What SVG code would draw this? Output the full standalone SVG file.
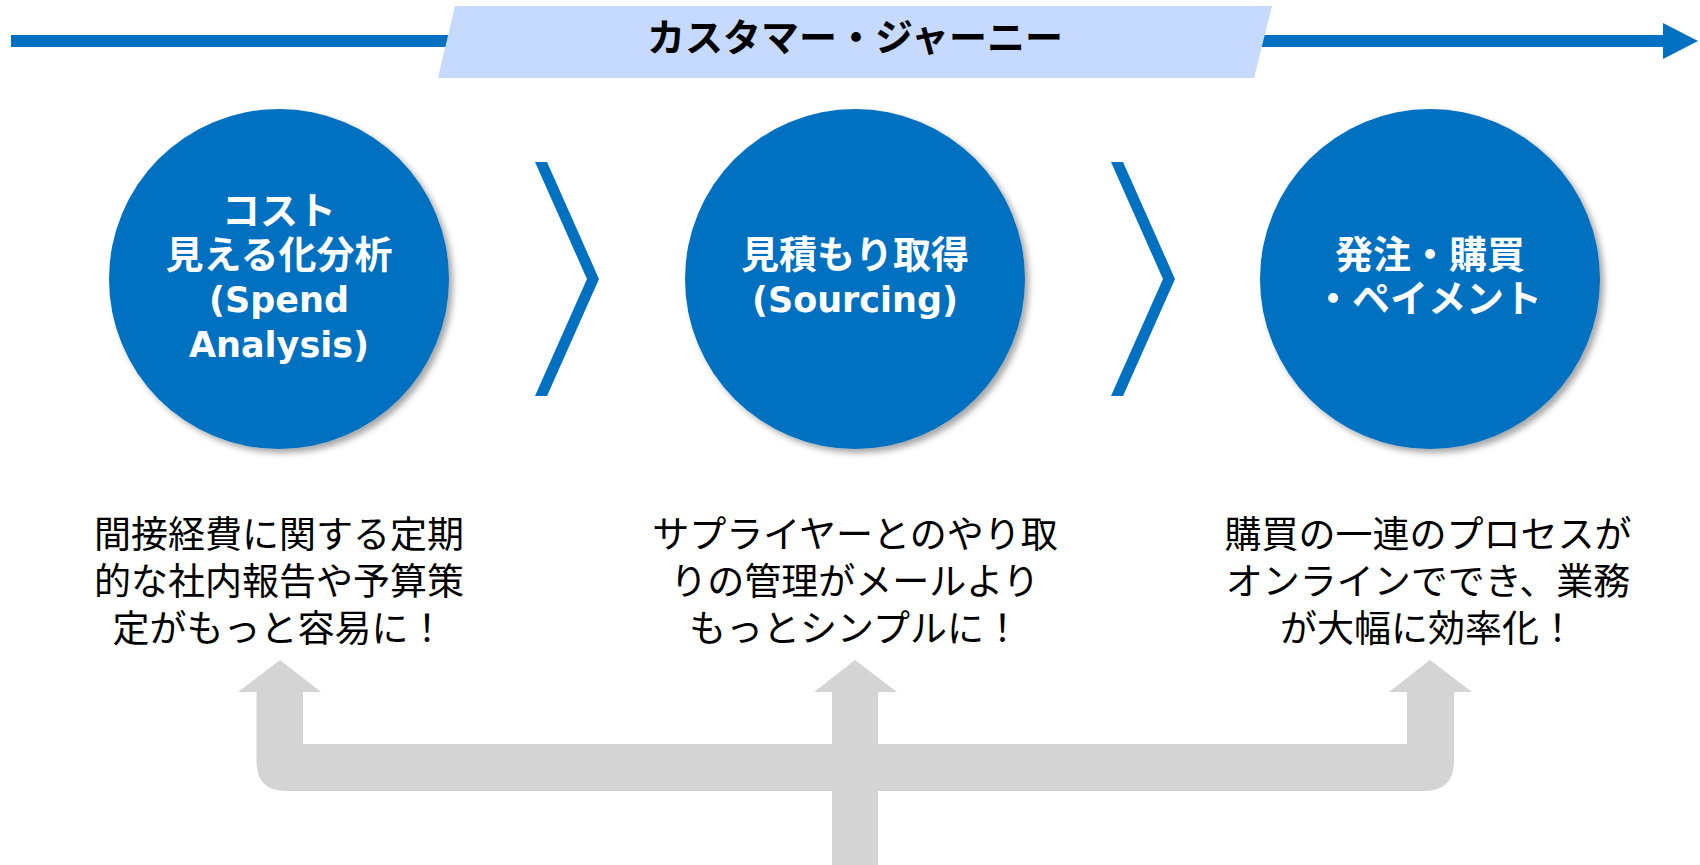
<svg xmlns="http://www.w3.org/2000/svg" width="1700" height="865" viewBox="0 0 1700 865">
  <defs>
    <filter id="shadow" x="-10%" y="-10%" width="125%" height="125%">
      <feDropShadow dx="4" dy="4" stdDeviation="3" flood-color="#000" flood-opacity="0.35"/>
    </filter>
  </defs>
  <style>
    .blue { fill: #0070C0; }
    .circle { fill: #0070C0; filter: url(#shadow); }
    .ctext { fill: #FFFFFF; font-family: "Noto Sans CJK JP", sans-serif; font-weight: bold; font-size: 38px; text-anchor: middle; }
    .clatin { fill: #FFFFFF; font-family: "DejaVu Sans", "Noto Sans CJK JP", sans-serif; font-weight: bold; font-size: 35px; text-anchor: middle; }
    .desc { fill: #000000; font-family: "Noto Sans CJK JP", sans-serif; font-size: 37px; text-anchor: middle; }
    .banner-text { fill: #000000; font-family: "Noto Sans CJK JP", sans-serif; font-weight: bold; font-size: 38px; text-anchor: middle; }
    .gray { fill: #D4D4D4; }
  </style>
  <rect width="1700" height="865" fill="#FFFFFF"/>

  <g id="connectors">
    <!-- timeline arrow -->
    <rect class="blue" x="11" y="35" width="1653" height="12"/>
    <polygon class="blue" points="1663,23 1698,41 1663,59"/>
    <!-- chevrons -->
    <polygon class="blue" points="535,162 547,162 599,279 547,396 535,396 587,279"/>
    <polygon class="blue" points="1111,162 1123,162 1175,279 1123,396 1111,396 1163,279"/>
    <!-- gray feedback arrows -->
    <path class="gray" d="M832,865 L832,791 L286,791 Q256.5,791 256.5,761 L256.5,692 L238,692 L280,660 L321,692 L303,692 L303,744 L832,744 L832,692 L814,692 L855,660 L897,692 L878,692 L878,744 L1407,744 L1407,692 L1389,692 L1430,660 L1472,692 L1454,692 L1454,761 Q1454,791 1424,791 L878,791 L878,865 Z"/>
  </g>

  <g id="banner">
    <polygon points="455,6 1272,6 1254,78 438,78" fill="#C6D9FE"/>
    <text class="banner-text" x="855" y="51">カスタマー・ジャーニー</text>
  </g>

  <g id="node-spend">
    <circle class="circle" cx="279" cy="279" r="170"/>
    <text class="ctext" x="279" y="224">コスト</text>
    <text class="ctext" x="279" y="268">見える化分析</text>
    <text class="clatin" x="279" y="312">(Spend</text>
    <text class="clatin" x="279" y="357">Analysis)</text>
  </g>

  <g id="node-sourcing">
    <circle class="circle" cx="855" cy="279" r="170"/>
    <text class="ctext" x="855" y="268">見積もり取得</text>
    <text class="clatin" x="855" y="312">(Sourcing)</text>
  </g>

  <g id="node-payment">
    <circle class="circle" cx="1430" cy="279" r="170"/>
    <text class="ctext" x="1430" y="268">発注・購買</text>
    <text class="ctext" x="1428" y="312">・ペイメント</text>
  </g>

  <g id="desc-spend">
    <text class="desc" x="279" y="548">間接経費に関する定期</text>
    <text class="desc" x="279" y="595">的な社内報告や予算策</text>
    <text class="desc" x="279" y="642">定がもっと容易に！</text>
  </g>

  <g id="desc-sourcing">
    <text class="desc" x="855" y="548">サプライヤーとのやり取</text>
    <text class="desc" x="855" y="595">りの管理がメールより</text>
    <text class="desc" x="855" y="642">もっとシンプルに！</text>
  </g>

  <g id="desc-payment">
    <text class="desc" x="1428" y="548">購買の一連のプロセスが</text>
    <text class="desc" x="1428" y="595">オンラインででき、業務</text>
    <text class="desc" x="1428" y="642">が大幅に効率化！</text>
  </g>
</svg>
